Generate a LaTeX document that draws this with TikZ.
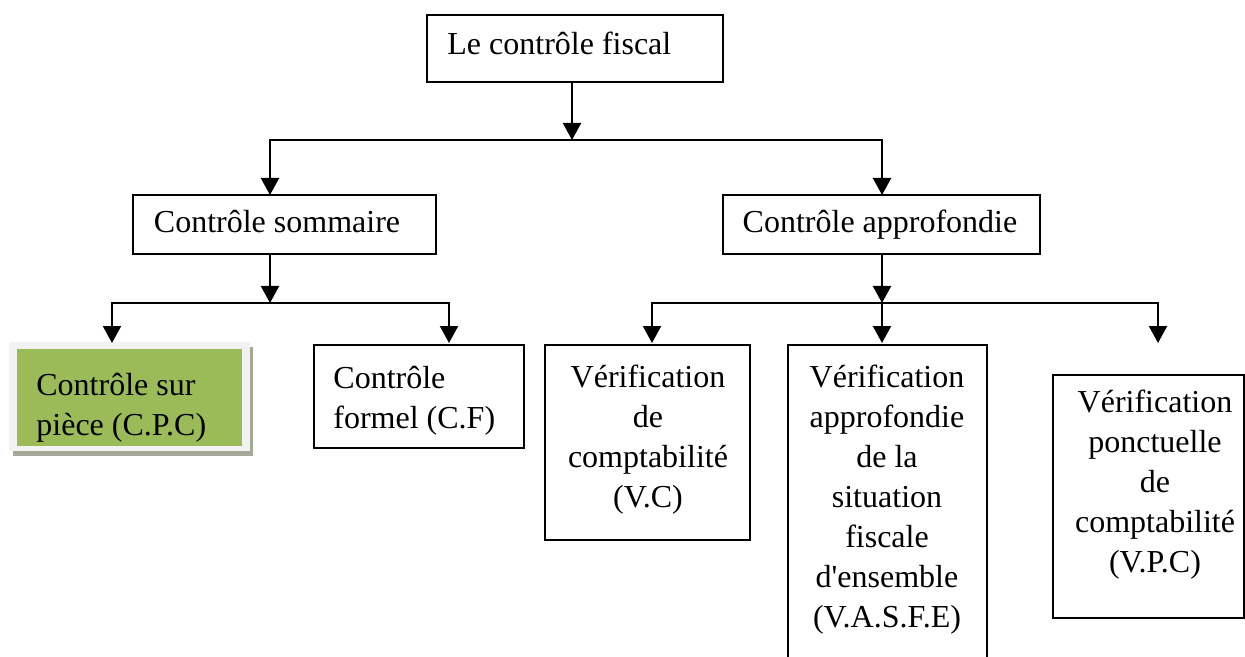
\documentclass[tikz,border=0pt]{standalone}
\usepackage{fontspec}
\setmainfont{Liberation Serif}
\usetikzlibrary{arrows.meta,fit}
\definecolor{cpcgreen}{HTML}{9BBB59}
\definecolor{cpcframe}{HTML}{F2F2F2}
\definecolor{cpcshadow}{HTML}{A3A996}
\tikzset{
  box/.style={draw=black,line width=0.8pt,inner sep=0pt},
  lbl/.style={inner sep=0pt,font=\fontsize{16}{20}\selectfont},
  arr/.style={line width=1.1pt,-{Triangle[width=9pt,length=8.5pt]}}
}
\begin{document}
\begin{tikzpicture}[x=0.5pt,y=-0.5pt]
\useasboundingbox (0,0) rectangle (1245,657);
\clip (0,0) rectangle (1245,657);
% top
\node[box,fit={(427,15) (723,82)}] (top) {};
\node[lbl,anchor=base west] (toptxt) at (447,55) {Le contrôle fiscal};
% level 2
\node[box,fit={(133,195) (436,254)}] (som) {};
\node[lbl,anchor=base] (somtxt) at (277,233) {Contrôle sommaire};
\node[box,fit={(723,195) (1040,254)}] (app) {};
\node[lbl,anchor=base] (apptxt) at (880,233) {Contrôle approfondie};
% level 3
\fill[cpcshadow] (13,347) rectangle (253,456);
\fill[cpcframe] (9,342) rectangle (250,451);
\node[fill=cpcgreen,inner sep=0pt,fit={(17,349) (242,446)}] (cpc) {};
\node[lbl,anchor=north west,align=left] (cpctxt) at (36,373) {Contrôle sur\\pièce (C.P.C)};
\node[box,fit={(314,345) (524,448)}] (cf) {};
\node[lbl,anchor=north west,align=left] (cftxt) at (333,366) {Contrôle\\formel (C.F)};
\node[box,fit={(545,345) (750,540)}] (vc) {};
\node[lbl,anchor=north,align=center] (vctxt) at (648,365) {Vérification\\de\\comptabilité\\(V.C)};
\node[box,fit={(788,345) (987,680)}] (vasfe) {};
\node[lbl,anchor=north,align=center] (vasfetxt) at (887,365) {Vérification\\approfondie\\de la\\situation\\fiscale\\d\textquotesingle ensemble\\(V.A.S.F.E)};
\node[box,fit={(1053,375) (1244,618)}] (vpc) {};
\node[lbl,anchor=north,align=center] (vpctxt) at (1155,390) {Vérification\\ponctuelle\\de\\comptabilité\\(V.P.C)};
% connectors
\coordinate (j1) at (572,140);
\coordinate (a1) at (270,195);
\coordinate (a2) at (882,195);
\draw[arr] (top.south -| j1) -- (j1);
\draw[arr] (j1) -| (a1);
\draw[arr] (j1) -| (a2);
\coordinate (s0) at (270,254);
\coordinate (j2) at (270,303);
\coordinate (b1) at (112,343);
\coordinate (b2) at (449,343);
\draw[arr] (s0) -- (j2);
\draw[arr] (j2) -| (b1);
\draw[arr] (j2) -| (b2);
\coordinate (t0) at (882,254);
\coordinate (j3) at (882,303);
\coordinate (c1) at (652,343);
\coordinate (c2) at (882,343);
\coordinate (c3) at (1158,343);
\draw[arr] (t0) -- (j3);
\draw[arr] (j3) -| (c1);
\draw[arr] (j3) -- (c2);
\draw[arr] (j3) -| (c3);
\end{tikzpicture}
\end{document}
